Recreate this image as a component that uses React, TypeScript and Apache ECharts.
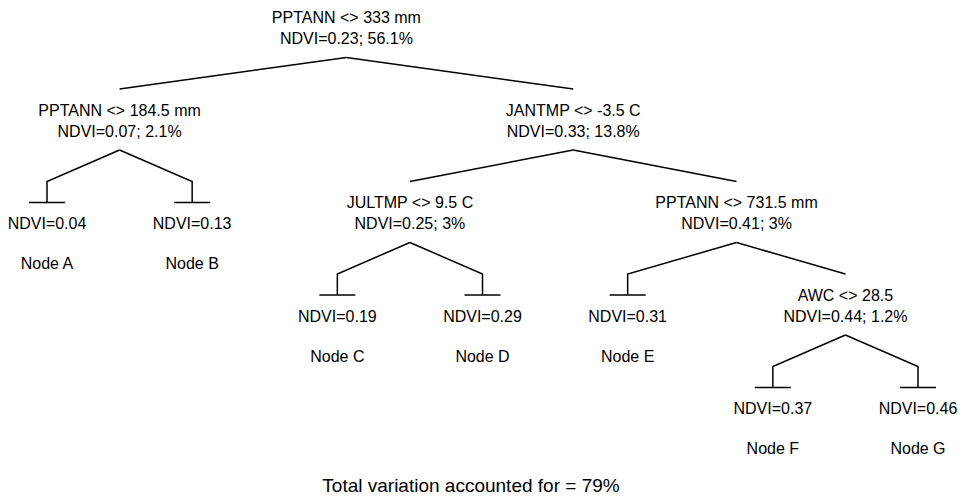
import React, { useEffect, useRef } from "react";
import * as echarts from "echarts";

// ---- data ----
const splitRules = [
  "PPTANN <> 333 mm",
  "PPTANN <> 184.5 mm",
  "JANTMP <> -3.5 C",
  "JULTMP <> 9.5 C",
  "PPTANN <> 731.5 mm",
  "AWC <> 28.5",
];
const splitNdvi = [0.23, 0.07, 0.33, 0.25, 0.41, 0.44];
const splitShare = [56.1, 2.1, 13.8, 3, 3, 1.2];
// children of each split (S# = split index, letters = terminal nodes)
const splitChildren = [
  ["S1", "S2"],
  ["A", "B"],
  ["S3", "S4"],
  ["C", "D"],
  ["E", "S5"],
  ["F", "G"],
];
const leafNames = ["A", "B", "C", "D", "E", "F", "G"];
const leafNdvi = [0.04, 0.13, 0.19, 0.29, 0.31, 0.37, 0.46];
const totalVariation = 79;

type TreeNode = {
  x: number;
  depth: number;
  parent: number;
  leaf: boolean;
  ref: number;
};

function buildNodes(): TreeNode[] {
  const nodes: TreeNode[] = [];
  let order = 0;
  const visit = (id: string, depth: number, parent: number): number => {
    const idx = nodes.length;
    if (id.startsWith("S")) {
      const s = Number(id.slice(1));
      nodes.push({ x: 0, depth, parent, leaf: false, ref: s });
      const kids = splitChildren[s].map((c) => visit(c, depth + 1, idx));
      nodes[idx].x = kids.reduce((a, k) => a + nodes[k].x, 0) / kids.length;
    } else {
      const l = leafNames.indexOf(id);
      nodes.push({ x: order++, depth, parent, leaf: true, ref: l });
    }
    return idx;
  };
  visit("S0", 0, -1);
  return nodes;
}

const FONT_FAMILY = '"Liberation Sans", Arial, Helvetica, sans-serif';

export default function App() {
  const ref = useRef<HTMLDivElement>(null);

  useEffect(() => {
    if (!ref.current) return;
    const chart = echarts.init(ref.current, undefined, { renderer: "svg" });
    const nodes = buildNodes();
    const data = nodes.map((n) => {
      const p = n.parent >= 0 ? nodes[n.parent] : null;
      return [n.x, n.depth, p ? p.x : 0, p ? p.depth : -1, n.leaf ? 1 : 0];
    });

    const txt = (text: string, x: number, y: number) => ({
      type: "text",
      style: {
        text,
        x,
        y,
        fill: "#000",
        font: `16px ${FONT_FAMILY}`,
        align: "center",
        verticalAlign: "middle",
      },
    });
    const lineStyle = { stroke: "#000", lineWidth: 1.5, fill: "none" };

    chart.setOption({
      animation: false,
      backgroundColor: "#fff",
      grid: { left: 47, right: 50, top: 38.5, bottom: 87.5 },
      xAxis: { type: "value", min: 0, max: 6, show: false },
      yAxis: { type: "value", min: 0, max: 4, inverse: true, show: false },
      series: [
        {
          type: "custom",
          clip: false,
          silent: true,
          data,
          renderItem: (params: any, api: any) => {
            const n = nodes[params.dataIndex];
            const [cx, cy] = api.coord([api.value(0), api.value(1)]);
            const children: any[] = [];
            const pd = api.value(3);
            let edgeStart: number[] | null = null;
            if (pd >= 0) {
              const [px, py] = api.coord([api.value(2), pd]);
              edgeStart = [px, py + 19];
            }
            if (!n.leaf) {
              children.push(txt(splitRules[n.ref], cx, cy - 21));
              children.push(
                txt(
                  `NDVI=${splitNdvi[n.ref].toFixed(2)}; ${splitShare[n.ref]}%`,
                  cx,
                  cy
                )
              );
              if (edgeStart) {
                children.push({
                  type: "polyline",
                  shape: { points: [edgeStart, [cx, cy - 42]] },
                  style: lineStyle,
                });
              }
            } else {
              children.push(txt(`NDVI=${leafNdvi[n.ref].toFixed(2)}`, cx, cy));
              children.push(txt(`Node ${leafNames[n.ref]}`, cx, cy + 40));
              const pts: number[][] = [];
              if (edgeStart) pts.push(edgeStart);
              pts.push([cx, cy - 42], [cx, cy - 21]);
              children.push({
                type: "polyline",
                shape: { points: pts },
                style: lineStyle,
              });
              children.push({
                type: "line",
                shape: { x1: cx - 18, y1: cy - 21, x2: cx + 18, y2: cy - 21 },
                style: lineStyle,
              });
            }
            return { type: "group", children };
          },
        },
      ],
      graphic: [
        {
          type: "text",
          x: 471,
          y: 485,
          style: {
            text: `Total variation accounted for = ${totalVariation}%`,
            fill: "#000",
            font: `19px ${FONT_FAMILY}`,
            align: "center",
            verticalAlign: "middle",
          },
        },
      ],
    });

    return () => chart.dispose();
  }, []);

  return (
    <div
      ref={ref}
      style={{ position: "absolute", left: 0, top: 0, width: 968, height: 496 }}
    />
  );
}
